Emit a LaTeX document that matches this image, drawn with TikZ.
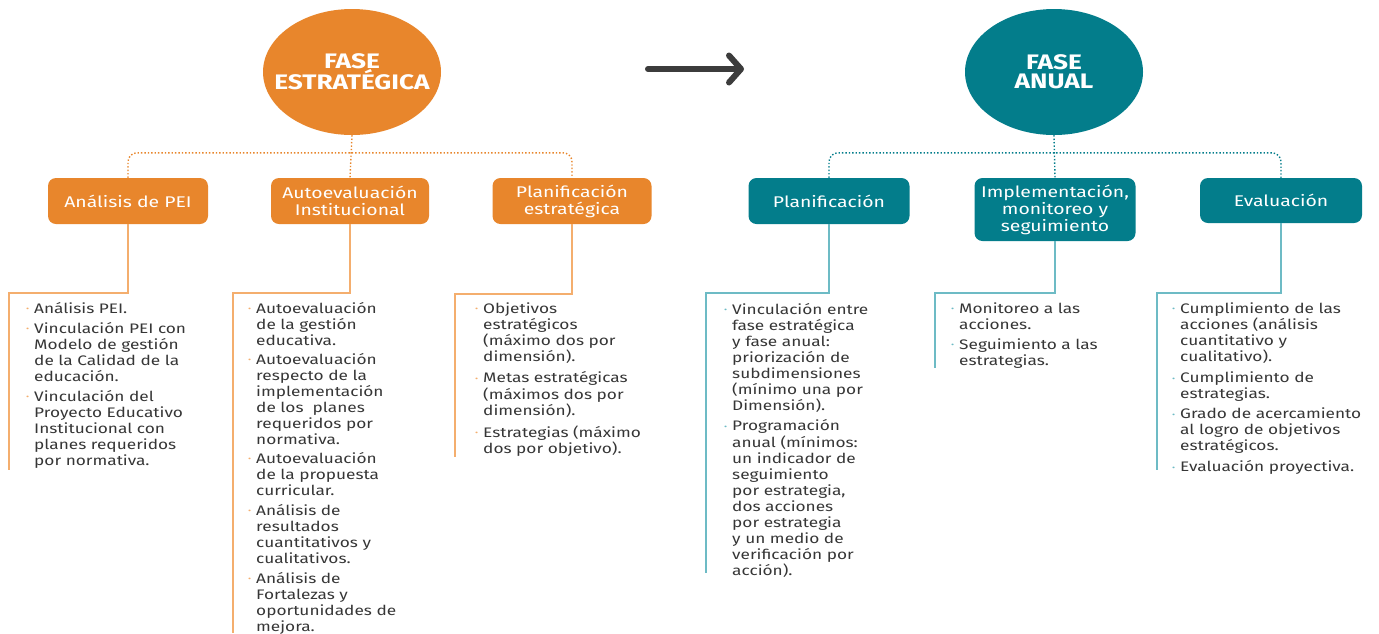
\documentclass[tikz,border=0pt]{standalone}
\usepackage{fontspec}
\setmainfont{Fira Sans}[FakeStretch=1.25]
\usetikzlibrary{arrows.meta,shapes.geometric}
\definecolor{orng}{HTML}{E8862C}
\definecolor{orngl}{HTML}{F4AE6E}
\definecolor{teal}{HTML}{037D8B}
\definecolor{teall}{HTML}{6DBBC5}
\definecolor{txt}{HTML}{363636}
\definecolor{arrowc}{HTML}{3C3C3C}
\newcommand{\ob}{\llap{\textcolor{orngl}{\raisebox{0.25ex}{\scalebox{0.55}{\textbullet}}}\hspace{5pt}}}
\newcommand{\tb}{\llap{\textcolor{teall}{\raisebox{0.25ex}{\scalebox{0.55}{\textbullet}}}\hspace{5pt}}}
\newcommand{\lst}[1]{\begin{tabular}[t]{@{}l@{}}#1\end{tabular}}
\begin{document}
\begin{tikzpicture}[x=1pt,y=-1pt,
  phase/.style={ellipse, minimum width=178pt, minimum height=126pt, inner xsep=-25pt, inner ysep=0pt, text=white, align=center, font=\bfseries\fontsize{21}{19}\selectfont},
  box/.style={rounded corners=8pt, text=white, align=center, inner sep=0pt, font=\fontsize{15.5}{17}\selectfont},
  list/.style={anchor=base west, inner sep=0pt, text=txt, font=\fontsize{13.8}{16}\selectfont},
  odot/.style={draw=orng, line width=1.4pt, dotted, rounded corners=9pt},
  tdot/.style={draw=teal, line width=1.4pt, dotted, rounded corners=9pt},
  oline/.style={draw=orngl, line width=1.6pt},
  tline/.style={draw=teall, line width=1.6pt},
  bigarrow/.style={draw=arrowc, line width=6pt, line cap=round, -{Straight Barb[length=12pt, width=27pt, round]}}
]
\useasboundingbox (0,0) rectangle (1379,633);
\fill[white] (0,0) rectangle (1379,633);

% phases
\node[phase, fill=orng] (fe) at (352,72) {FASE\\ESTRATÉGICA};
\node[phase, fill=teal] (fa) at (1054,72) {FASE\\ANUAL};

% arrow
\coordinate (arS) at (648,69);
\coordinate (arE) at (744,69);
\draw[bigarrow] (arS) -- (arE);

% orange boxes
\node[box, fill=orng, minimum width=160pt, minimum height=46pt] (b1) at (128,201) {Análisis de PEI};
\node[box, fill=orng, minimum width=158pt, minimum height=46pt] (b2) at (350,201) {Autoevaluación\\Institucional};
\node[box, fill=orng, minimum width=159pt, minimum height=46pt] (b3) at (572,201) {Planificación\\estratégica};

% teal boxes
\node[box, fill=teal, minimum width=161pt, minimum height=46pt] (ba) at (829,201) {Planificación};
\node[box, fill=teal, minimum width=161pt, minimum height=63pt] (bb) at (1055,209.5) {Implementación,\\monitoreo y\\seguimiento};
\node[box, fill=teal, minimum width=162pt, minimum height=45pt] (bc) at (1281,200.5) {Evaluación};

% dotted connectors
\draw[odot] (fe.south) -- (b2.north);
\draw[odot] (b1.north) -- ++(0,-25) -| (b3.north);
\draw[tdot] (fa.south) -- (bb.north);
\draw[tdot] (ba.north) -- ++(0,-25) -| (bc.north);

% solid lines to lists
\coordinate (c1a) at (9,293);  \coordinate (c1b) at (9,470);
\coordinate (c2a) at (233,293); \coordinate (c2b) at (233,633);
\coordinate (c3a) at (455,294); \coordinate (c3b) at (455,457);
\coordinate (c4a) at (706,293); \coordinate (c4b) at (706,573);
\coordinate (c5a) at (935,293); \coordinate (c5b) at (935,368);
\coordinate (c6a) at (1157,293); \coordinate (c6b) at (1157,470);
\draw[oline] (b1.south) |- (c1a) -- (c1b);
\draw[oline] (b2.south) |- (c2a) -- (c2b);
\draw[oline] (b3.south) |- (c3a) -- (c3b);
\draw[tline] (ba.south) |- (c4a) -- (c4b);
\draw[tline] (bb.south) |- (c5a) -- (c5b);
\draw[tline] (bc.south) |- (c6a) -- (c6b);

% lists
\node[list] (l1) at (34,313) {\lst{\ob Análisis PEI.\\[4pt]
\ob Vinculación PEI con\\ Modelo de gestión\\ de la Calidad de la\\ educación.\\[4pt]
\ob Vinculación del\\ Proyecto Educativo\\ Institucional con\\ planes requeridos\\ por normativa.}};

\node[list] (l2) at (256,313) {\lst{\ob Autoevaluación\\ de la gestión\\ educativa.\\[3pt]
\ob Autoevaluación\\ respecto de la\\ implementación\\ de los\ \ planes\\ requeridos por\\ normativa.\\[3pt]
\ob Autoevaluación\\ de la propuesta\\ curricular.\\[4pt]
\ob Análisis de\\ resultados\\ cuantitativos y\\ cualitativos.\\[4pt]
\ob Análisis de\\ Fortalezas y\\ oportunidades de\\ mejora.}};

\node[list] (l3) at (483,313) {\lst{\ob Objetivos\\ estratégicos\\ (máximo dos por\\ dimensión).\\[5pt]
\ob Metas estratégicas\\ (máximos dos por\\ dimensión).\\[5pt]
\ob Estrategias (máximo\\ dos por objetivo).}};

\node[list] (l4) at (732,314) {\lst{\tb Vinculación entre\\ fase estratégica\\ y fase anual:\\ priorización de\\ subdimensiones\\ (mínimo una por\\ Dimensión).\\[4pt]
\tb Programación\\ anual (mínimos:\\ un indicador de\\ seguimiento\\ por estrategia,\\ dos acciones\\ por estrategia\\ y un medio de\\ verificación por\\ acción).}};

\node[list] (l5) at (959,313) {\lst{\tb Monitoreo a las\\ acciones.\\[4pt]
\tb Seguimiento a las\\ estrategias.}};

\node[list] (l6) at (1180,313) {\lst{\tb Cumplimiento de las\\ acciones (análisis\\ cuantitativo y\\ cualitativo).\\[5pt]
\tb Cumplimiento de\\ estrategias.\\[4pt]
\tb Grado de acercamiento\\ al logro de objetivos\\ estratégicos.\\[5pt]
\tb Evaluación proyectiva.}};
\end{tikzpicture}
\end{document}
